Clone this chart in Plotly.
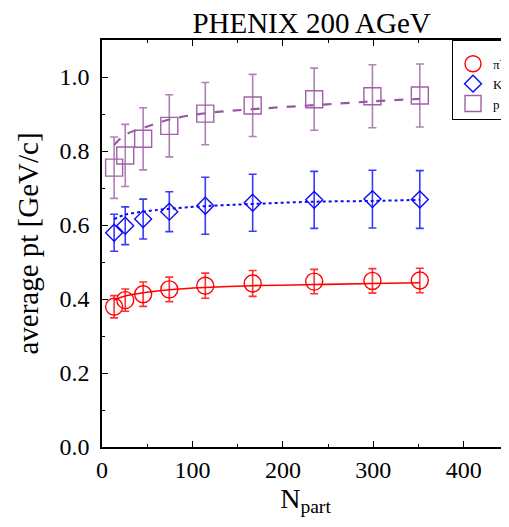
import plotly.graph_objects as go

npart = [13.4, 25.7, 45.5, 74.4, 114.2, 166.6, 234.6, 299.0, 351.4]

pion = [0.379, 0.397, 0.413, 0.426, 0.436, 0.442, 0.447, 0.449, 0.450]
pion_err = [0.030, 0.030, 0.033, 0.033, 0.034, 0.035, 0.033, 0.033, 0.033]
kaon = [0.579, 0.598, 0.616, 0.636, 0.652, 0.660, 0.668, 0.670, 0.669]
kaon_err = [0.050, 0.051, 0.054, 0.054, 0.077, 0.077, 0.077, 0.078, 0.078]
proton = [0.755, 0.788, 0.833, 0.868, 0.901, 0.923, 0.940, 0.948, 0.950]
proton_err = [0.083, 0.084, 0.084, 0.084, 0.084, 0.084, 0.084, 0.085, 0.085]

fit_x = [13.4, 25.7, 45.5, 74.4, 114.2, 166.6, 234.6, 299.0, 351.4]
pion_fit = [0.397, 0.408, 0.417, 0.425, 0.431, 0.436, 0.439, 0.442, 0.444]
kaon_fit = [0.616, 0.628, 0.636, 0.644, 0.651, 0.657, 0.663, 0.665, 0.668]
proton_fit = [0.816, 0.844, 0.862, 0.885, 0.902, 0.913, 0.924, 0.934, 0.941]

x_ticks = [0, 100, 200, 300, 400]
y_ticks = [0.0, 0.2, 0.4, 0.6, 0.8, 1.0]
y_tick_text = ["0.0", "0.2", "0.4", "0.6", "0.8", "1.0"]

RED = "rgb(255,0,0)"
BLUE = "rgb(10,10,245)"
PURPLE = "rgb(160,96,168)"
FONT = "Liberation Serif"

# the page body adds an 8 px offset, so the figure is sized to fill the rest of the window
W, H = 501, 519

fig = go.Figure()

# fit lines
fig.add_trace(go.Scatter(x=fit_x, y=pion_fit, mode="lines", line=dict(color=RED, width=1.6, shape="spline"),
                         showlegend=False, hoverinfo="skip"))
fig.add_trace(go.Scatter(x=fit_x, y=kaon_fit, mode="lines", line=dict(color=BLUE, width=2, dash="dot", shape="spline"),
                         showlegend=False, hoverinfo="skip"))
fig.add_trace(go.Scatter(x=fit_x, y=proton_fit, mode="lines", line=dict(color="rgb(150,88,160)", width=2.2, dash="dash", shape="spline"),
                         showlegend=False, hoverinfo="skip"))

# data points
fig.add_trace(go.Scatter(x=npart, y=pion, mode="markers", name="π<sup>-</sup>",
                         marker=dict(symbol="circle-open", size=17, color=RED, line=dict(width=1.4, color=RED)),
                         error_y=dict(type="data", array=pion_err, color="rgba(255,0,0,0.8)", thickness=1.6, width=4)))
fig.add_trace(go.Scatter(x=npart, y=kaon, mode="markers", name="K<sup>-</sup>",
                         marker=dict(symbol="diamond-open", size=13, color=BLUE, line=dict(width=1.4, color=BLUE)),
                         error_y=dict(type="data", array=kaon_err, color="rgba(10,10,245,0.8)", thickness=1.6, width=4)))
fig.add_trace(go.Scatter(x=npart, y=proton, mode="markers", name="p",
                         marker=dict(symbol="square-open", size=17, color=PURPLE, line=dict(width=1.4, color=PURPLE)),
                         error_y=dict(type="data", array=proton_err, color="rgba(160,96,168,0.8)", thickness=1.6, width=4)))

fig.update_layout(
    width=W, height=H,
    margin=dict(l=94, r=0, t=32, b=80, autoexpand=False),
    paper_bgcolor="white", plot_bgcolor="white",
    font=dict(family=FONT, color="black"),
    title=dict(text="PHENIX 200 AGeV", x=0.515, xref="paper", xanchor="center",
               y=1 - 15 / H, yref="container", yanchor="middle",
               font=dict(family=FONT, size=29, color="black")),
    legend=dict(x=0.86, y=1, xanchor="left", yanchor="top", bgcolor="white",
                bordercolor="black", borderwidth=1, font=dict(family=FONT, size=13, color="black"),
                tracegroupgap=0, itemwidth=30,
                title=dict(text=" ", font=dict(size=6))),
    showlegend=True,
)

fig.update_xaxes(
    range=[0, 450], showgrid=False, zeroline=False, automargin=False,
    showline=True, linecolor="black", linewidth=1.5, mirror="ticks",
    ticks="inside", ticklen=6, tickcolor="black",
    tickvals=x_ticks, ticktext=[str(v) for v in x_ticks],
    tickfont=dict(family=FONT, size=24, color="black"),
    minor=dict(dtick=50, ticks="inside", ticklen=3, tickcolor="black"),
    title=dict(text="N<sub>part</sub>", font=dict(family=FONT, size=28, color="black"), standoff=6),
)
fig.update_yaxes(
    range=[0, 1.1], showgrid=False, zeroline=False, automargin=False,
    showline=True, linecolor="black", linewidth=1.5, mirror=False,
    ticks="inside", ticklen=6, tickcolor="black",
    tickvals=y_ticks, ticktext=y_tick_text,
    tickfont=dict(family=FONT, size=24, color="black"),
    ticklabelstandoff=6,
    minor=dict(dtick=0.1, ticks="inside", ticklen=3, tickcolor="black"),
    title=dict(text="average pt [GeV/c]", font=dict(family=FONT, size=29, color="black"), standoff=12),
)

fig.write_html("out.html")
